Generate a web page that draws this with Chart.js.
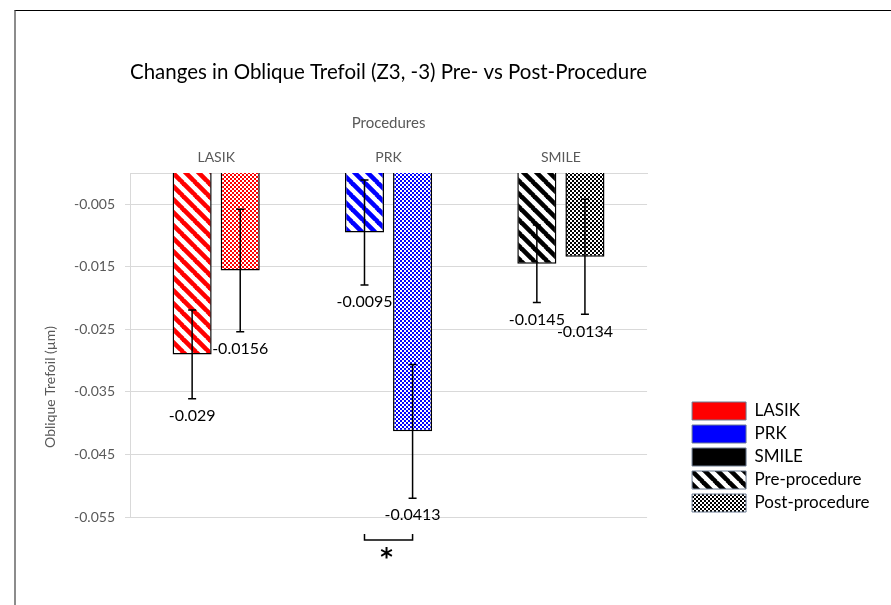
<!DOCTYPE html>
<html>
<head>
<meta charset="utf-8">
<script src="https://cdn.jsdelivr.net/npm/chart.js@4.4.1/dist/chart.umd.min.js"></script>
<style>
  html, body { margin: 0; padding: 0; background: #fff; }
  #wrap { position: relative; width: 891px; height: 605px; overflow: hidden; }
  #frame { position: absolute; left: 14px; top: 10px; right: -5px; bottom: -5px; border-left: 2px solid #8c8c8c; border-top: 1px solid #000; }
  canvas { position: absolute; left: 0; top: 0; }
</style>
</head>
<body>
<div id="wrap">
  <div id="frame"></div>
  <canvas id="chart" width="891" height="605"></canvas>
</div>
<script>
// data
const categories = ['LASIK', 'PRK', 'SMILE'];
const preValues = [-0.029, -0.0095, -0.0145];
const postValues = [-0.0156, -0.0413, -0.0134];
const preErrors = [0.0071, 0.0084, 0.0062];
const postErrors = [0.0098, 0.0107, 0.0092];
const yTicks = [-0.055, -0.045, -0.035, -0.025, -0.015, -0.005];
const yTickLabels = ['-0.055', '-0.045', '-0.035', '-0.025', '-0.015', '-0.005'];
const seriesNames = ['Pre-procedure', 'Post-procedure'];
const yTitle = 'Oblique Trefoil (µm)';
const sigCategory = 1; // PRK pre vs post
const sigLabel = '*';

const categoryColors = ['#ff0000', '#0000ff', '#000000'];
const FONT = "Lato, 'Open Sans', sans-serif";
const GRAY = '#595959';

// Excel-like fill patterns
function stripePattern(color) {
  const s = 13;
  const c = document.createElement('canvas');
  c.width = s; c.height = s;
  const g = c.getContext('2d');
  g.fillStyle = '#fff';
  g.fillRect(0, 0, s, s);
  g.strokeStyle = color;
  g.lineWidth = 4.6;
  [-s, 0, s].forEach(k => {
    g.beginPath();
    g.moveTo(k - 1, -1);
    g.lineTo(k + s + 1, s + 1);
    g.stroke();
  });
  return g.createPattern(c, 'repeat');
}

function checkerPattern(color) {
  const c = document.createElement('canvas');
  c.width = 4; c.height = 4;
  const g = c.getContext('2d');
  g.fillStyle = '#fff';
  g.fillRect(0, 0, 4, 4);
  g.fillStyle = color;
  g.fillRect(0, 0, 2, 2);
  g.fillRect(2, 2, 2, 2);
  return g.createPattern(c, 'repeat');
}

const ctx = document.getElementById('chart').getContext('2d');

// y title sits lower than centre in the original, so draw it by hand
const yTitlePlugin = {
  id: 'yTitle',
  afterDraw(chart) {
    const c = chart.ctx;
    const area = chart.chartArea;
    c.save();
    c.translate(50, (area.top + area.bottom) / 2 + 42);
    c.rotate(-Math.PI / 2);
    c.fillStyle = GRAY;
    c.font = '14px ' + FONT;
    c.textAlign = 'center';
    c.textBaseline = 'middle';
    c.fillText(yTitle, 0, 0);
    c.restore();
  }
};

// error bars, value labels and the significance bracket
const errorBarPlugin = {
  id: 'errorBars',
  afterDatasetsDraw(chart) {
    const c = chart.ctx;
    const y = chart.scales.y;
    const errs = [preErrors, postErrors];
    c.save();
    c.strokeStyle = '#000';
    c.lineWidth = 1.5;
    c.fillStyle = '#000';
    c.font = '16px ' + FONT;
    c.textAlign = 'center';
    c.textBaseline = 'middle';
    errs.forEach((errList, di) => {
      const meta = chart.getDatasetMeta(di);
      meta.data.forEach((bar, i) => {
        const v = chart.data.datasets[di].data[i];
        const yTop = y.getPixelForValue(v + errList[i]);
        const yBot = y.getPixelForValue(v - errList[i]);
        c.beginPath();
        c.moveTo(bar.x, yTop);
        c.lineTo(bar.x, yBot);
        c.moveTo(bar.x - 4, yTop);
        c.lineTo(bar.x + 4, yTop);
        c.moveTo(bar.x - 4, yBot);
        c.lineTo(bar.x + 4, yBot);
        c.stroke();
        c.fillText(String(v), bar.x, yBot + 17);
      });
    });

    // significance bracket
    const x1 = chart.getDatasetMeta(0).data[sigCategory].x;
    const x2 = chart.getDatasetMeta(1).data[sigCategory].x;
    const yb = chart.chartArea.bottom + 23;
    c.beginPath();
    c.moveTo(x1, yb - 6);
    c.lineTo(x1, yb);
    c.lineTo(x2, yb);
    c.lineTo(x2, yb - 6);
    c.stroke();
    c.font = "bold 24px 'DejaVu Sans'";
    c.textBaseline = 'alphabetic';
    c.fillText(sigLabel, (x1 + x2) / 2 - 2, yb + 25);
    c.restore();
  }
};

new Chart(ctx, {
  type: 'bar',
  data: {
    labels: categories,
    datasets: [
      {
        label: seriesNames[0],
        data: preValues,
        backgroundColor: categoryColors.map(stripePattern),
        borderColor: '#000',
        borderWidth: 1.5
      },
      {
        label: seriesNames[1],
        data: postValues,
        backgroundColor: categoryColors.map(checkerPattern),
        borderColor: '#000',
        borderWidth: 1.5
      }
    ]
  },
  options: {
    responsive: false,
    animation: false,
    categoryPercentage: 0.558,
    barPercentage: 0.8125,
    layout: { padding: { left: 20, right: 11.5, top: 40, bottom: 88 } },
    plugins: {
      title: {
        display: true,
        fullSize: false,
        text: 'Changes in Oblique Trefoil (Z3, -3) Pre- vs Post-Procedure',
        color: '#000',
        font: { family: FONT, size: 20.5, weight: 'normal' },
        padding: { top: 20, bottom: 16 }
      },
      legend: {
        position: 'right',
        align: 'end',
        maxWidth: 260,
        labels: {
          boxWidth: 54,
          boxHeight: 18,
          padding: 5,
          color: '#000',
          font: { family: FONT, size: 17, lineHeight: 1.1 },
          generateLabels() {
            const items = categories.map((name, i) => ({
              text: name,
              fillStyle: categoryColors[i],
              strokeStyle: '#6d7d93',
              lineWidth: 1,
              hidden: false
            }));
            items.push({ text: seriesNames[0], fillStyle: stripePattern('#000'), strokeStyle: '#6d7d93', lineWidth: 1, hidden: false });
            items.push({ text: seriesNames[1], fillStyle: checkerPattern('#000'), strokeStyle: '#6d7d93', lineWidth: 1, hidden: false });
            return items;
          }
        }
      },
      tooltip: { enabled: false }
    },
    scales: {
      x: {
        position: 'top',
        grid: { drawOnChartArea: false, drawTicks: false, color: '#d9d9d9' },
        border: { display: true, color: '#d9d9d9' },
        ticks: { color: GRAY, font: { family: FONT, size: 14 }, padding: 7 },
        title: {
          display: true,
          text: 'Procedures',
          color: GRAY,
          font: { family: FONT, size: 15 },
          padding: { top: 14, bottom: 9.6 }
        }
      },
      y: {
        min: -0.055,
        max: 0,
        afterBuildTicks: s => { s.ticks = yTicks.map(v => ({ value: v })); },
        afterFit: s => { s.width = 110; },
        ticks: {
          callback: v => yTickLabels[yTicks.indexOf(v)],
          color: GRAY,
          font: { family: FONT, size: 14 },
          padding: 10
        },
        grid: { color: '#d9d9d9', tickLength: 5 },
        border: { display: true, color: '#d9d9d9' }
      },
      gap: {
        type: 'linear',
        position: 'right',
        grid: { display: false },
        border: { display: false },
        ticks: { display: false },
        afterFit: s => { s.width = 40; }
      }
    }
  },
  plugins: [errorBarPlugin, yTitlePlugin]
});
</script>
</body>
</html>
